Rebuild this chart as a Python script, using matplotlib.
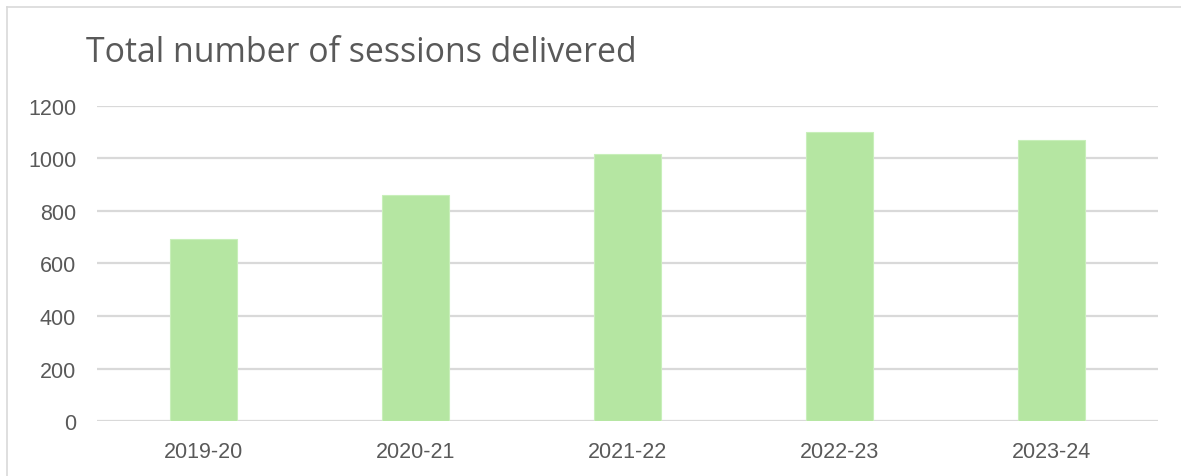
import matplotlib
matplotlib.use("Agg")
import matplotlib.pyplot as plt
from matplotlib.lines import Line2D

years = ["2019-20", "2020-21", "2021-22", "2022-23", "2023-24"]
sessions = [695, 860, 1015, 1100, 1070]
yticks = [0, 200, 400, 600, 800, 1000, 1200]

GREY = "#595959"
GRID = "#d9d9d9"
BAR = "#b5e6a2"

fig = plt.figure(figsize=(11.81, 4.77), dpi=100)
ax = fig.add_axes([0.0821, 0.1147, 0.8984, 0.6616])

x = range(len(years))
ax.bar(x, sessions, width=0.316, color=BAR, edgecolor="#c8efba", linewidth=0.8, zorder=3)

ax.set_xlim(-0.5, len(years) - 0.5)
ax.set_ylim(0, 1200)
ax.set_yticks(yticks)
ax.set_xticks(list(x))
ax.set_xticklabels(years)
ax.yaxis.grid(True, color=GRID, linewidth=1.6, zorder=0)
ax.set_axisbelow(True)
for s in ax.spines.values():
    s.set_visible(False)
ax.tick_params(axis="both", length=0, labelsize=15.5, labelcolor=GREY)
ax.tick_params(axis="y", pad=15)
ax.tick_params(axis="x", pad=14)
for lab in ax.get_xticklabels() + ax.get_yticklabels():
    lab.set_fontfamily("Liberation Sans")

fig.text(86 / 1181, 1 - 62 / 477, "Total number of sessions delivered",
         fontsize=24.4, color=GREY, family="Open Sans", va="baseline", ha="left")

# chart frame (left and top edges only)
fig.add_artist(Line2D([7 / 1181, 7 / 1181], [0, 1 - 8 / 477], color=GRID,
                      linewidth=1.2, transform=fig.transFigure))
fig.add_artist(Line2D([7 / 1181, 1], [1 - 8 / 477, 1 - 8 / 477], color=GRID,
                      linewidth=1.2, transform=fig.transFigure))

plt.savefig("out.png", dpi=100)
